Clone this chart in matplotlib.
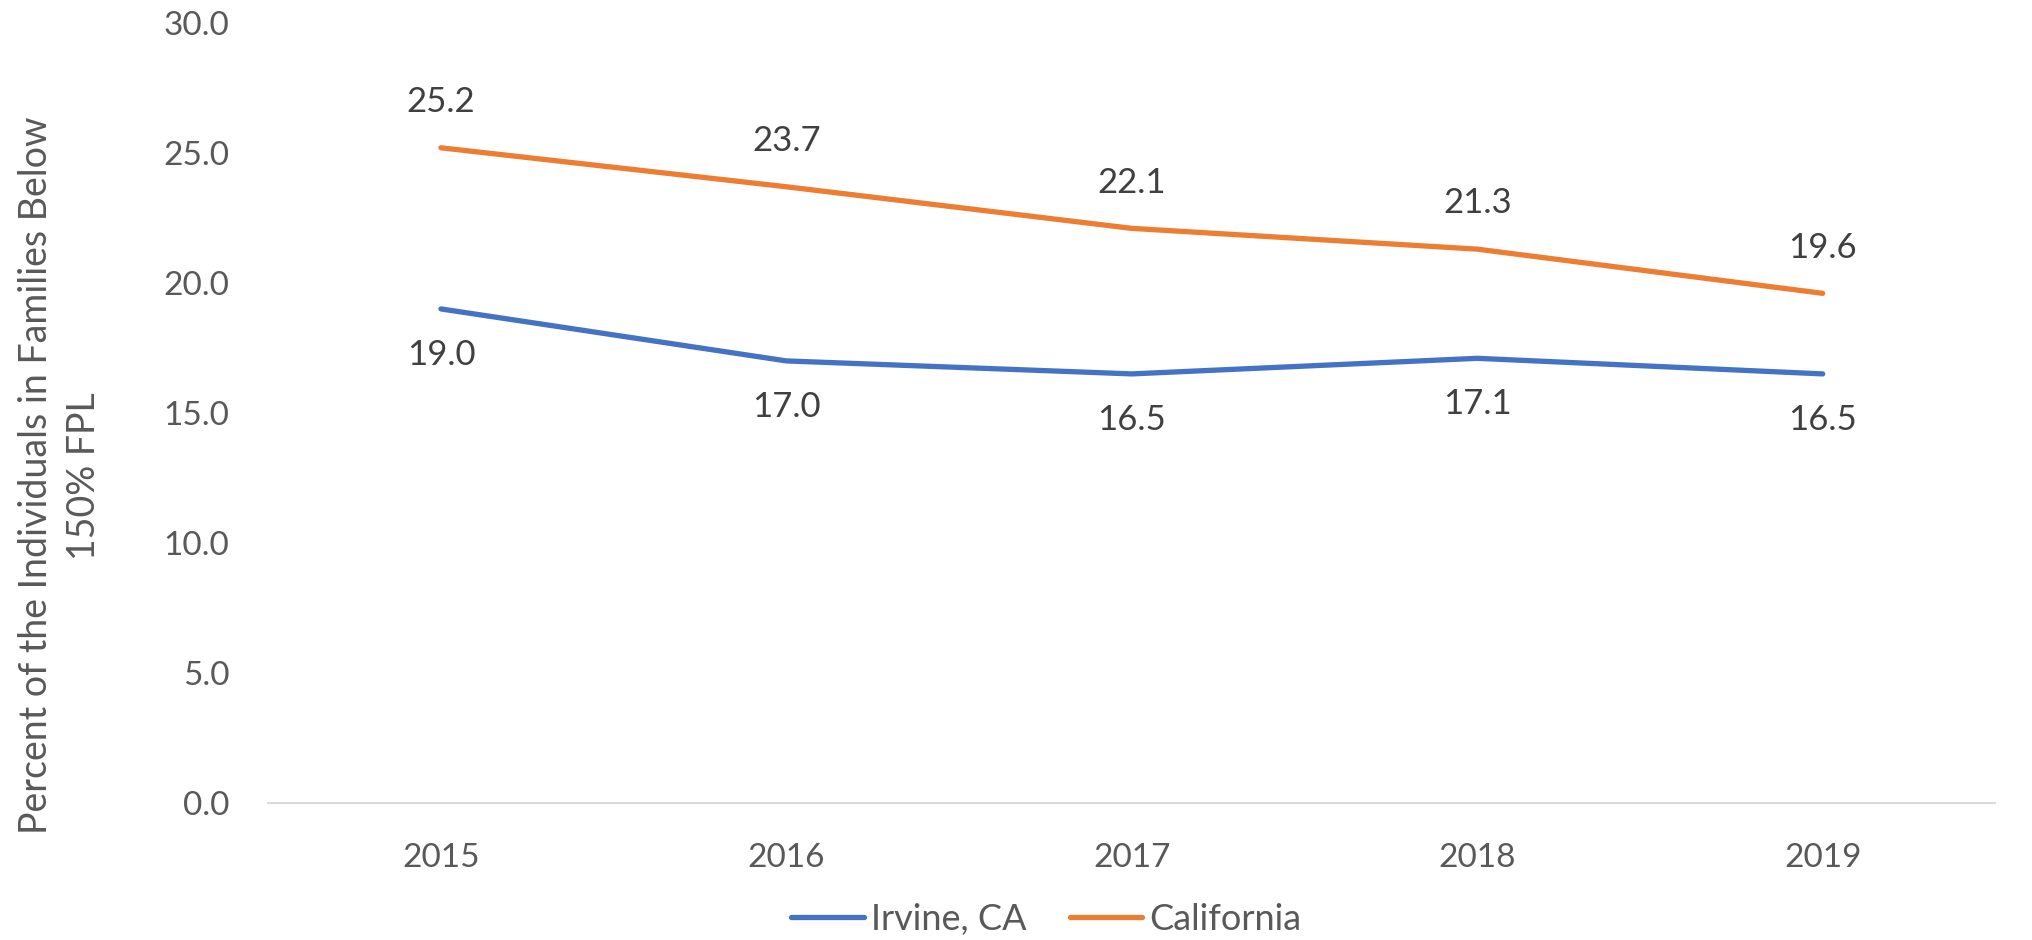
#!/usr/bin/env python
# Filename: plot.py
"""
introduction: line chart of the percent of individuals in families below 150% FPL,
Irvine vs California, 2015-2019
"""

import numpy as np
import matplotlib
matplotlib.use('Agg')
import matplotlib.pyplot as plt

# data
years = ['2015', '2016', '2017', '2018', '2019']
irvine = [19.0, 17.0, 16.5, 17.1, 16.5]
california = [25.2, 23.7, 22.1, 21.3, 19.6]
y_ticks = [0.0, 5.0, 10.0, 15.0, 20.0, 25.0, 30.0]

plt.rcParams['font.family'] = ['Lato', 'DejaVu Sans']

fig = plt.figure(figsize=(20.32, 9.40), dpi=100)
ax = fig.add_axes([0.132, 0.146, 0.850, 0.8295])

x = np.arange(len(years))
ax.plot(x, irvine, color='#4472C4', lw=3.8, solid_capstyle='round', label='Irvine, CA')
ax.plot(x, california, color='#ED7D31', lw=3.8, solid_capstyle='round', label='California')

# data labels: orange above, blue below
for xi, v in zip(x, california):
    ax.annotate('%.1f' % v, (xi, v), xytext=(0, 33), textcoords='offset points',
                ha='center', va='center', fontsize=25, color='#404040')
for xi, v in zip(x, irvine):
    ax.annotate('%.1f' % v, (xi, v), xytext=(0, -33), textcoords='offset points',
                ha='center', va='center', fontsize=25, color='#404040')

ax.set_xlim(-0.5, len(years) - 0.5)
ax.set_ylim(0, 30)
ax.set_xticks(x)
ax.set_xticklabels(years)
ax.set_yticks(y_ticks)
ax.set_yticklabels(['%.1f' % t for t in y_ticks])
ax.tick_params(axis='both', length=0, labelsize=24, colors='#595959')
ax.tick_params(axis='y', pad=28)
ax.tick_params(axis='x', pad=29)

for s in ['top', 'right', 'left']:
    ax.spines[s].set_visible(False)
ax.spines['bottom'].set_color('#D9D9D9')
ax.spines['bottom'].set_linewidth(1.5)

fig.text(0.0295, 0.494, 'Percent of the Individuals in Families Below\n150% FPL',
         rotation=90, ha='center', va='center', fontsize=27, color='#595959',
         linespacing=1.4)

fig.legend(loc='center', bbox_to_anchor=(0.515, 0.022), ncol=2, frameon=False,
           fontsize=26, labelcolor='#595959', handlelength=2.0, handletextpad=0.2,
           columnspacing=1.2)

fig.savefig('out.png', dpi=100)
